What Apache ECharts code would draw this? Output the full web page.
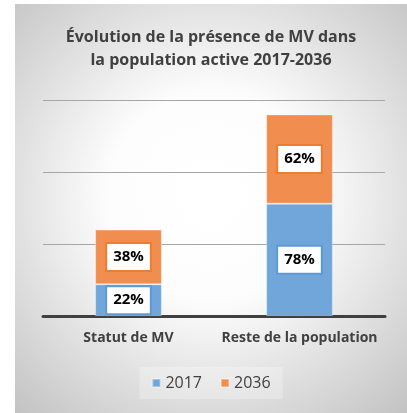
<!DOCTYPE html>
<html>
<head>
<meta charset="utf-8">
<script src="https://cdn.jsdelivr.net/npm/echarts@6/dist/echarts.min.js"></script>
<style>
  html, body { margin: 0; padding: 0; background: #ffffff; }
  #chart { position: absolute; left: 15px; top: 4px; width: 392px; height: 409px; }
</style>
</head>
<body>
<div id="chart"></div>
<script>
// donnees du graphique
var categories = ['Statut de MV', 'Reste de la population'];
var seriesNames = ['2017', '2036'];
var values2017 = [22, 78];
var values2036 = [38, 62];
var yTicks = [0, 50, 100, 150];

var blue = '#70a6d9';
var orange = '#f08d4f';

var chart = echarts.init(document.getElementById('chart'));

function makeLabel(border) {
	return {
		show: true,
		position: 'inside',
		formatter: '{c}%',
		color: '#000000',
		fontWeight: 'bold',
		fontSize: 15,
		fontFamily: 'Open Sans',
		backgroundColor: '#ffffff',
		borderColor: border,
		borderWidth: 2,
		padding: [6, 6, 5, 6]
	};
}

var option = {
	backgroundColor: {
		type: 'radial', x: 0.5, y: 0.47, r: 0.75,
		colorStops: [
			{ offset: 0, color: '#ffffff' },
			{ offset: 0.35, color: '#fdfdfd' },
			{ offset: 1, color: '#c2c2c2' }
		]
	},
	animation: false,
	title: {
		text: 'Évolution de la présence de MV dans\nla population active 2017-2036',
		left: 'center',
		top: 17,
		textStyle: {
			fontFamily: 'Open Sans',
			fontWeight: 'bold',
			fontSize: 16,
			lineHeight: 23,
			color: '#404040'
		}
	},
	legend: {
		data: seriesNames,
		bottom: 14,
		left: 'center',
		itemWidth: 8,
		itemHeight: 8,
		itemGap: 18,
		icon: 'rect',
		backgroundColor: 'rgba(255,255,255,0.25)',
		padding: [8, 12],
		textStyle: { fontFamily: 'Open Sans', fontSize: 16, color: '#404040' }
	},
	grid: { left: 28, right: 22, top: 96, bottom: 97 },
	xAxis: {
		type: 'category',
		data: categories,
		axisLine: { lineStyle: { color: '#404040', width: 3 } },
		axisTick: { show: false },
		axisLabel: {
			interval: 0,
			margin: 15,
			fontFamily: 'Open Sans',
			fontWeight: 'bold',
			fontSize: 14,
			color: '#404040'
		}
	},
	yAxis: {
		type: 'value',
		min: yTicks[0],
		max: yTicks[yTicks.length - 1],
		interval: 50,
		axisLabel: { show: false },
		axisLine: { show: false },
		axisTick: { show: false },
		splitLine: { lineStyle: { color: '#a6a6a6', width: 1 } }
	},
	series: [
		{
			name: seriesNames[0],
			type: 'bar',
			stack: 'total',
			barWidth: '39%',
			data: values2017,
			itemStyle: { color: blue, borderColor: 'rgba(255,255,255,0.35)', borderWidth: 1 },
			label: makeLabel('#5b9bd5')
		},
		{
			name: seriesNames[1],
			type: 'bar',
			stack: 'total',
			barWidth: '39%',
			data: values2036,
			itemStyle: { color: orange, borderColor: 'rgba(255,255,255,0.35)', borderWidth: 1 },
			label: makeLabel('#ed7d31')
		}
	]
};
chart.setOption(option);
</script>
</body>
</html>
